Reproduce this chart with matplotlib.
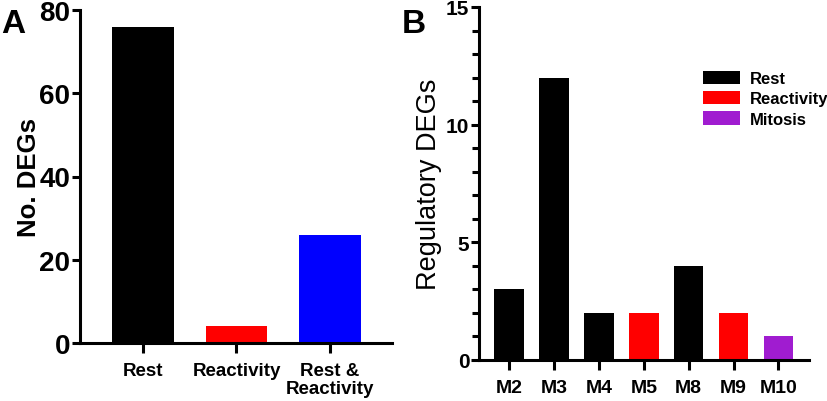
import matplotlib
matplotlib.use("Agg")
from matplotlib import pyplot as plt
from matplotlib.patches import Patch
from matplotlib.ticker import MultipleLocator

plt.rcParams['font.family'] = ['Liberation Sans', 'DejaVu Sans']

# panel A data
groups_a = ['Rest', 'Reactivity', 'Rest &\nReactivity']
counts_a = [76, 4, 26]
colors_a = ['#000000', '#FF0000', '#0000FF']

# panel B data
modules_b = ['M2', 'M3', 'M4', 'M5', 'M8', 'M9', 'M10']
counts_b = [3, 12, 2, 2, 4, 2, 1]
kind_b = ['Rest', 'Rest', 'Rest', 'Reactivity', 'Rest', 'Reactivity', 'Mitosis']
kind_colors = {'Rest': '#000000', 'Reactivity': '#FF0000', 'Mitosis': '#A01CD0'}

fig = plt.figure(figsize=(8.28, 4.02), dpi=100)

lw = 2.2

def style_axes(ax):
    for s in ['top', 'right']:
        ax.spines[s].set_visible(False)
    for s in ['left', 'bottom']:
        ax.spines[s].set_linewidth(lw)
    ax.tick_params(width=lw, length=6, direction='out')

#---- panel A
ax1 = fig.add_axes([80/828, 1-344/402, (392-80)/828, (344-11)/402])
xa = range(len(groups_a))
ax1.bar(xa, counts_a, width=0.66, color=colors_a)
ax1.set_xlim(-0.67, 2.66)
ax1.set_ylim(0, 80)
ax1.set_yticks([0, 20, 40, 60, 80])
ax1.set_xticks(list(xa))
ax1.set_xticklabels(groups_a, fontsize=13.5, fontweight='bold', linespacing=1.05)
for t in ax1.get_yticklabels():
    t.set_fontsize(20)
    t.set_fontweight('bold')
ax1.set_ylabel('No. DEGs', fontsize=18.5, fontweight='bold')
ax1.yaxis.set_label_coords(-0.125, 0.5)
style_axes(ax1)
ax1.tick_params(axis='x', length=7, pad=7)
ax1.tick_params(axis='y', pad=1)

#---- panel B
ax2 = fig.add_axes([479/828, 1-361/402, (809-479)/828, (361-8)/402])
xb = range(len(modules_b))
ax2.bar(xb, counts_b, width=0.66, color=[kind_colors[k] for k in kind_b])
ax2.set_xlim(-0.67, 6.68)
ax2.set_ylim(0, 15)
ax2.yaxis.set_major_locator(MultipleLocator(5))
ax2.yaxis.set_minor_locator(MultipleLocator(1))
ax2.set_xticks(list(xb))
ax2.set_xticklabels(modules_b, fontsize=14, fontweight='bold')
for t in ax2.get_yticklabels():
    t.set_fontsize(15)
    t.set_fontweight('bold')
ax2.set_ylabel('Regulatory DEGs', fontsize=19.5)
ax2.yaxis.set_label_coords(-0.112, 0.5)
style_axes(ax2)
ax2.tick_params(axis='y', which='minor', width=lw, length=5)
ax2.tick_params(axis='x', length=7, pad=7)
ax2.tick_params(axis='y', pad=1)

handles = [Patch(facecolor=kind_colors[k], label=k) for k in ['Rest', 'Reactivity', 'Mitosis']]
ax2.legend(handles=handles, loc='upper left', bbox_to_anchor=(0.679, 0.82),
           frameon=False, borderpad=0, borderaxespad=0,
           handlelength=2.2, handleheight=0.85, handletextpad=0.6, labelspacing=0.3,
           prop={'size': 12, 'weight': 'bold'})

# panel letters
fig.text(1/828, 1-33/402, 'A', fontsize=24, fontweight='bold')
fig.text(402/828, 1-33/402, 'B', fontsize=24, fontweight='bold')

fig.savefig('out.png', dpi=100)
